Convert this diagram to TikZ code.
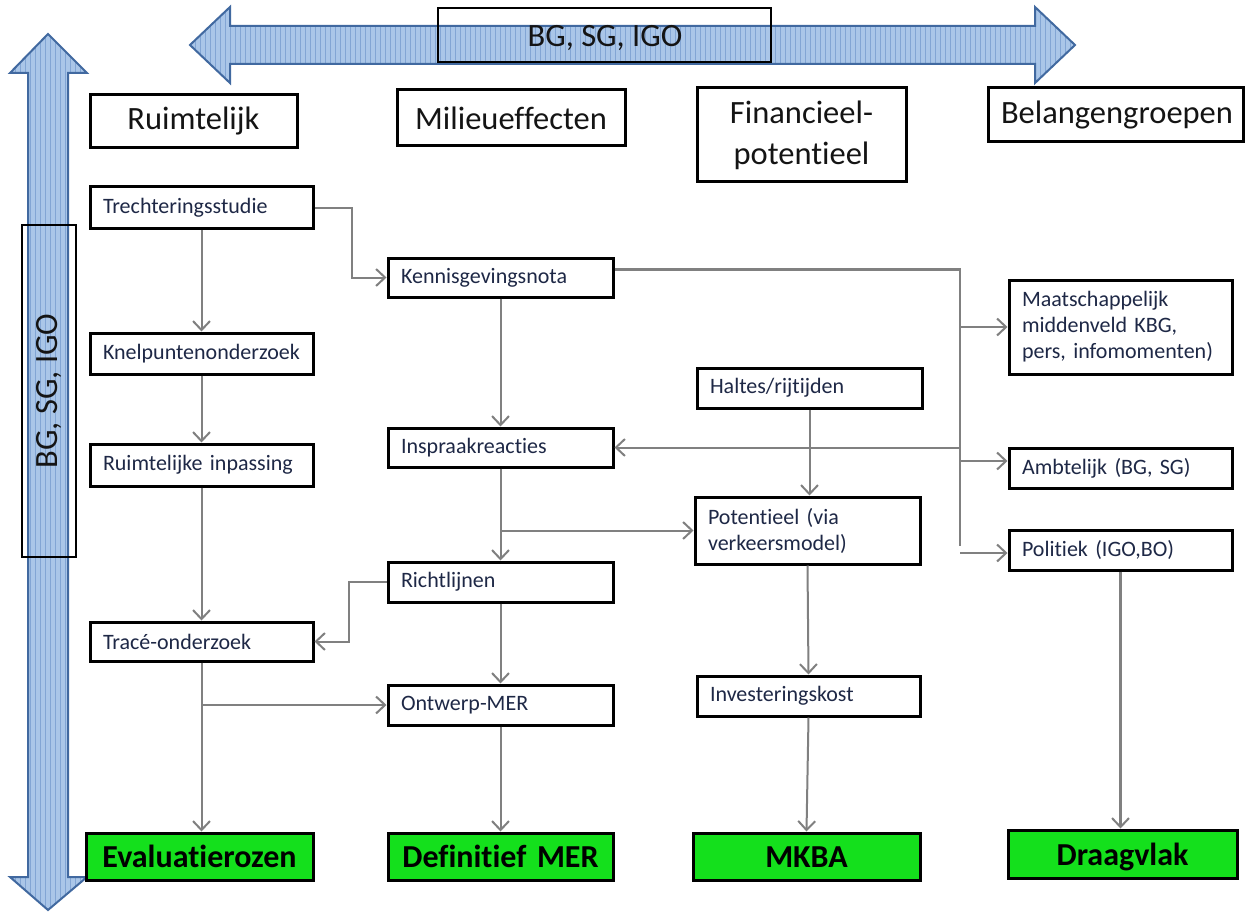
\documentclass[tikz,border=0pt]{standalone}
\usepackage{fontspec}
\setmainfont{Carlito}[Ligatures=NoCommon]
\usetikzlibrary{arrows.meta}
\definecolor{txt}{RGB}{30,40,70}
\definecolor{hdr}{RGB}{20,20,20}
\definecolor{conncol}{RGB}{128,128,128}
\definecolor{grn}{RGB}{20,224,28}
\definecolor{arrfill}{RGB}{170,198,232}
\definecolor{arrgrid}{RGB}{130,165,212}
\definecolor{arredge}{RGB}{65,105,160}
\newcommand\mybox[7]{%
  \pgfmathsetmacro\myBW{#5-#3}\pgfmathsetmacro\myBH{#6-#4}\pgfmathsetmacro\myTW{#5-#3-26}%
  \node[#1, minimum width=\myBW pt, minimum height=\myBH pt, text width=\myTW pt] (#2) at ({(#3+#5)/2},{(#4+#6)/2}) {#7};}
\begin{document}
\begin{tikzpicture}[x=1pt,y=-1pt,
  base/.style={draw=black, line width=3pt, fill=white, inner xsep=13pt, inner ysep=0pt},
  small/.style={base, align=left, text=txt, font=\fontsize{22}{26}\selectfont},
  header/.style={base, align=center, text=hdr, font=\fontsize{32.5}{41}\selectfont},
  result/.style={base, fill=grn, align=center, text=black, font=\fontsize{32}{36}\selectfont\bfseries, text height=26pt, text depth=4pt},
  conn/.style={draw=conncol, line width=2pt, -{Straight Barb[length=9pt,width=17pt,line width=2pt]}},
  bus/.style={draw=conncol, line width=2.8pt},
  bigarrow/.style={draw=arredge, line width=2pt}]
\useasboundingbox (0,0) rectangle (1245,912);
\fill[white] (0,0) rectangle (1245,912);

% horizontal double arrow
\begin{scope}
  \clip (190,45) -- (230,7) -- (230,26) -- (1035,26) -- (1035,7) -- (1075,45) -- (1035,83) -- (1035,64) -- (230,64) -- (230,83) -- cycle;
  \fill[arrfill] (0,0) rectangle (1245,912);
  \draw[arrgrid, line width=0.7pt, step=5] (0,0) grid (1245,912);
\end{scope}
\draw[bigarrow] (190,45) -- (230,7) -- (230,26) -- (1035,26) -- (1035,7) -- (1075,45) -- (1035,83) -- (1035,64) -- (230,64) -- (230,83) -- cycle;

% vertical double arrow
\begin{scope}
  \clip (48,34) -- (87,73) -- (68,73) -- (68,877) -- (87,877) -- (48,910) -- (10,877) -- (28,877) -- (28,73) -- (10,73) -- cycle;
  \fill[arrfill] (0,0) rectangle (1245,912);
  \draw[arrgrid, line width=0.7pt, step=5] (0,0) grid (1245,912);
\end{scope}
\draw[bigarrow] (48,34) -- (87,73) -- (68,73) -- (68,877) -- (87,877) -- (48,910) -- (10,877) -- (28,877) -- (28,73) -- (10,73) -- cycle;

% label boxes on the arrows
\node[draw=black, line width=2.5pt, minimum width=333pt, minimum height=54pt, inner sep=0pt] (topbox) at (604.5,35) {};
\node[font=\fontsize{32.5}{36}\selectfont, text=hdr, inner sep=0pt] (toplbl) at (605,38) {BG, SG, IGO};
\node[draw=black, line width=2.5pt, minimum width=332pt, minimum height=54pt, inner sep=0pt, rotate=90,
      font=\fontsize{32.5}{36}\selectfont, text=hdr] (leftbox) at (49,391) {BG, SG, IGO};

% headers
\mybox{header}{h1}{90}{95}{297}{148}{Ruimtelijk}
\mybox{header}{h2}{397}{90}{625}{146}{Milieueffecten}
\mybox{header}{h3}{697}{88}{906}{182}{Financieel-\\potentieel}
\mybox{header}{h4}{988}{88}{1243}{142}{Belangengroepen}

% small boxes
\mybox{small}{tr}{90}{187}{313}{229}{Trechteringsstudie}
\mybox{small}{kn}{388}{258}{613}{297}{Kennisgevingsnota}
\mybox{small}{knp}{90}{333}{313}{374}{Knelpuntenonderzoek}
\mybox{small}{ri}{90}{444}{313}{486}{Ruimtelijke inpassing}
\mybox{small}{ms}{1009}{280}{1232}{374}{Maatschappelijk\\middenveld KBG,\\pers, infomomenten)}
\mybox{small}{ha}{697}{368}{922}{408}{Haltes/rijtijden}
\mybox{small}{ins}{388}{428}{613}{467}{Inspraakreacties}
\mybox{small}{am}{1009}{448}{1232}{488}{Ambtelijk (BG, SG)}
\mybox{small}{pot}{695}{497}{920}{564}{Potentieel (via\\verkeersmodel)}
\mybox{small}{pol}{1009}{530}{1232}{570}{Politiek (IGO,BO)}
\mybox{small}{rl}{388}{562}{613}{602}{Richtlijnen}
\mybox{small}{tro}{90}{622}{313}{661}{Tracé-onderzoek}
\mybox{small}{inv}{697}{676}{920}{716}{Investeringskost}
\mybox{small}{om}{388}{685}{613}{725}{Ontwerp-MER}

% results
\mybox{result}{ev}{86}{833}{313}{880}{Evaluatierozen}
\mybox{result}{dm}{388}{833}{613}{880}{Definitief MER}
\mybox{result}{mkba}{693}{833}{920}{880}{MKBA}
\mybox{result}{dv}{1008}{830}{1237}{878}{Draagvlak}

% connectors
\coordinate (busx) at (960,0);
\draw[conn] (tr.east) -- ++(37,0) |- (kn.west);
\draw[conn] (tr.south) -- (knp.north);
\draw[conn] (knp.south) -- (ri.north);
\draw[conn] (ri.south) -- (tro.north);
\draw[conn] (tro.south) -- (tro.south |- ev.north);
\draw[conn] (tro.south |- om.west) -- (om.west);
\draw[conn] (kn.south) -- (ins.north);
\draw[bus] ([yshift=8pt]kn.east) -| ([yshift=4pt]busx |- pol.west);
\draw[conn] (busx |- ms.west) -- (ms.west);
\draw[conn] ([yshift=7pt]busx |- am.west) -- ([yshift=7pt]am.west);
\draw[conn] ([yshift=-3pt]busx |- pol.west) -- ([yshift=-3pt]pol.west);
\draw[conn] (busx |- ins.east) -- (ins.east);
\draw[conn] (ha.south) -- (ha.south |- pot.north);
\draw[conn] (ins.south) -- (ins.south |- rl.north);
\draw[conn] (ins.south |- pot.west) -- (pot.west);
\draw[conn] (rl.west) -- ++(-38,0) |- (tro.east);
\draw[conn] (rl.south) -- (om.north);
\draw[conn] (om.south) -- (dm.north);
\draw[conn] (pot.south) -- (inv.north);
\draw[conn] (inv.south) -- (mkba.north);
\draw[conn, line width=2.8pt] (pol.south) -- (pol.south |- dv.north);
\end{tikzpicture}
\end{document}
